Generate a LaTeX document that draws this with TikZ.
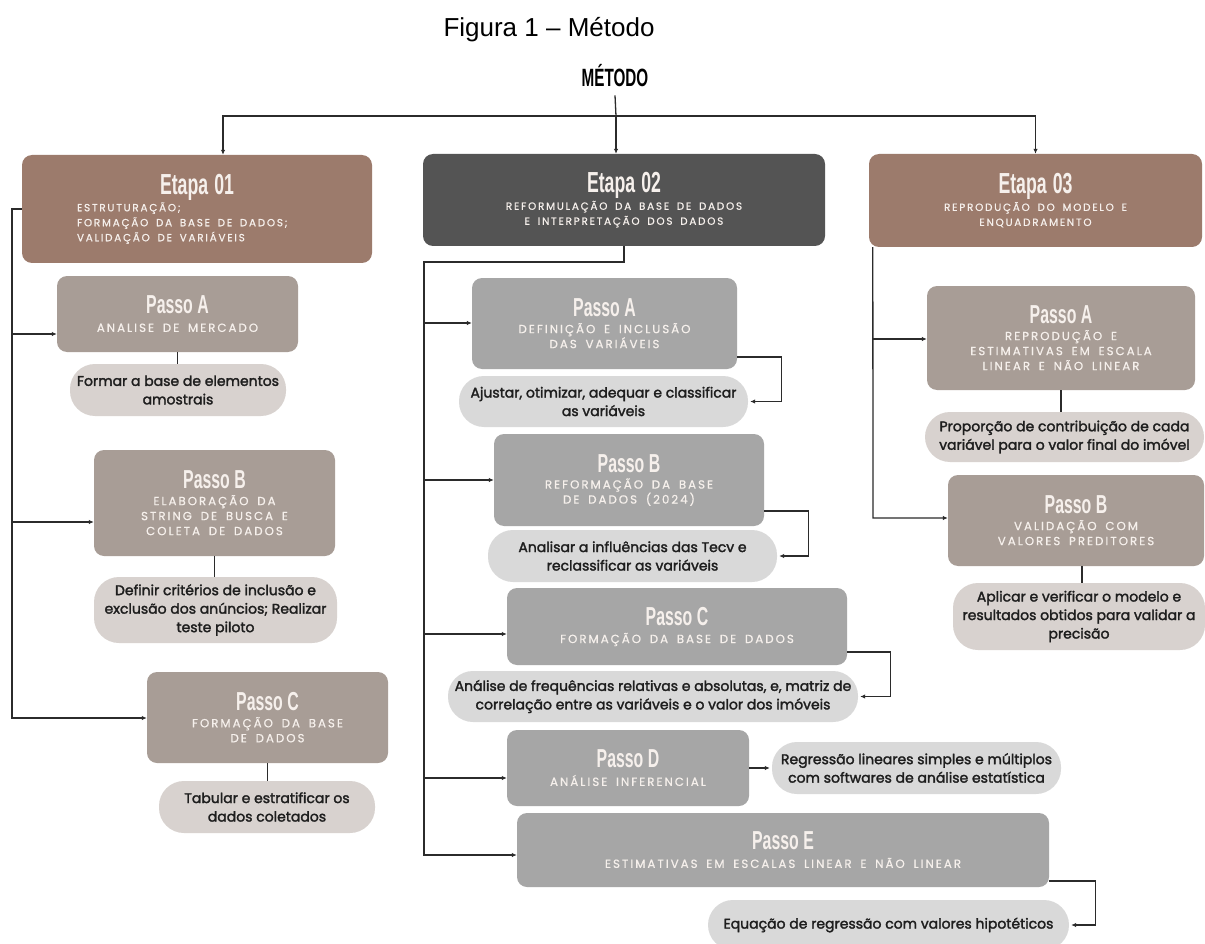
\documentclass[tikz,border=0pt]{standalone}
\usepackage{fontspec}
\usepackage{graphicx}
\usetikzlibrary{arrows.meta,calc}
\setmainfont{Liberation Sans}
\newfontfamily\hdfont{Liberation Sans}
\newfontfamily\subfont{Poppins}[LetterSpace=17, FakeBold=0.6, WordSpace=1.7]
\newfontfamily\pillfont{Poppins}[FakeBold=2]
\definecolor{brownE}{HTML}{9C7B6C}
\definecolor{darkE}{HTML}{545454}
\definecolor{taupe}{HTML}{A89D96}
\definecolor{grayP}{HTML}{A6A6A6}
\definecolor{pillT}{HTML}{D8D2CF}
\definecolor{pillG}{HTML}{D9D9D9}
\definecolor{lineC}{HTML}{2B2B2B}
\definecolor{subW}{HTML}{F6F0EC}
\definecolor{pillText}{HTML}{1E1E1E}
\newcommand{\hd}[2]{{\hdfont\bfseries\fontsize{#1}{#1}\selectfont\scalebox{0.61}[1]{#2}}}
\begin{document}
\begin{tikzpicture}[x=1pt,y=-1pt,
  stagebox/.style={rounded corners=10pt, inner sep=0pt, text=subW, align=center,
    font=\subfont\fontsize{10.4}{15}\selectfont},
  stepbox/.style={rounded corners=10pt, inner sep=0pt, text=subW, align=center,
    font=\subfont\fontsize{11.8}{15}\selectfont},
  pillbox/.style={rounded corners=25pt, inner sep=0pt, text=pillText, align=center,
    font=\pillfont\fontsize{14}{18.5}\selectfont},
  conn/.style={draw=lineC, line width=1.3pt},
  arrowc/.style={conn, -{Latex[length=5pt,width=4.5pt]}}
]
\useasboundingbox (0,0) rectangle (1205,944);
\fill[white] (0,0) rectangle (1205,944);

% titles
\node[anchor=base, inner sep=0pt] (fig) at (549,37) {\fontsize{26}{26}\selectfont Figura 1 – Método};
\node[anchor=base, inner sep=0pt] (metodo) at (615,87) {\hd{25}{MÉTODO}};

% stages
\node[stagebox, fill=brownE, minimum width=350pt, minimum height=108pt, text width=240pt, align=left] (e1) at (197,209)
  {\spaceskip=0pt\xspaceskip=0pt\hspace*{83pt}\hd{29}{Etapa\hspace{2pt} 01}\\[2pt] ESTRUTURAÇÃO;\\ FORMAÇÃO DA BASE DE DADOS;\\ VALIDAÇÃO DE VARIÁVEIS};
\node[stagebox, fill=darkE, minimum width=402pt, minimum height=92pt] (e2) at (624,200)
  {\hd{29}{Etapa\hspace{2pt} 02}\\[2pt] REFORMULAÇÃO DA BASE DE DADOS\\ E INTERPRETAÇÃO DOS DADOS};
\node[stagebox, fill=brownE, minimum width=333pt, minimum height=93pt] (e3) at (1035.5,200.5)
  {\hd{29}{Etapa\hspace{2pt} 03}\\[2pt] REPRODUÇÃO DO MODELO E\\ ENQUADRAMENTO};

% column 1
\node[stepbox, fill=taupe, minimum width=241pt, minimum height=76pt] (p1a) at (177.5,314)
  {\hd{26}{Passo A}\\[3pt] ANALISE DE MERCADO};
\node[pillbox, fill=pillT, minimum width=216pt, minimum height=52pt] (pill1a) at (178,390)
  {Formar a base de elementos\\ amostrais};
\node[stepbox, fill=taupe, minimum width=241pt, minimum height=106pt] (p1b) at (214.5,503)
  {\hd{26}{Passo B}\\[1.5pt] ELABORAÇÃO DA\\ STRING DE BUSCA E\\ COLETA DE DADOS};
\node[pillbox, fill=pillT, minimum width=243pt, minimum height=66pt] (pill1b) at (215.5,610)
  {Definir critérios de inclusão e\\ exclusão dos anúncios; Realizar\\ teste piloto};
\node[stepbox, fill=taupe, minimum width=241pt, minimum height=91pt] (p1c) at (267.5,717.5)
  {\hd{26}{Passo C}\\[1.5pt] FORMAÇÃO DA BASE\\ DE DADOS};
\node[pillbox, fill=pillT, minimum width=216pt, minimum height=52pt] (pill1c) at (267,807)
  {Tabular e estratificar os\\ dados coletados};

% column 2
\node[stepbox, fill=grayP, minimum width=265pt, minimum height=91pt] (p2a) at (604.5,323.5)
  {\hd{26}{Passo A}\\[1.5pt] DEFINIÇÃO E INCLUSÃO\\ DAS VARIÁVEIS};
\node[pillbox, fill=pillG, minimum width=289pt, minimum height=51pt] (pill2a) at (603.5,401.5)
  {Ajustar, otimizar, adequar e classificar\\ as variáveis};
\node[stepbox, fill=grayP, minimum width=270pt, minimum height=92pt] (p2b) at (629,480)
  {\hd{26}{Passo B}\\[1.5pt] REFORMAÇÃO DA BASE\\ DE DADOS (2024)};
\node[pillbox, fill=pillG, minimum width=289pt, minimum height=52pt] (pill2b) at (632.5,556)
  {Analisar a influências das Tecv e\\ reclassificar as variáveis};
\node[stepbox, fill=grayP, minimum width=340pt, minimum height=77pt] (p2c) at (677,626.5)
  {\hd{26}{Passo C}\\[3pt] FORMAÇÃO DA BASE DE DADOS};
\node[pillbox, fill=pillG, minimum width=410pt, minimum height=51pt] (pill2c) at (653,696.5)
  {Análise de frequências relativas e absolutas, e, matriz de\\ correlação entre as variáveis e o valor dos imóveis};
\node[stepbox, fill=grayP, minimum width=242pt, minimum height=76pt] (p2d) at (628,768)
  {\hd{26}{Passo D}\\[3pt] ANÁLISE INFERENCIAL};
\node[pillbox, fill=pillG, minimum width=289pt, minimum height=52pt] (pill2d) at (916.5,768)
  {Regressão lineares simples e múltiplos\\ com softwares de análise estatística};
\node[stepbox, fill=grayP, minimum width=532pt, minimum height=74pt] (p2e) at (783,850)
  {\hd{26}{Passo E}\\[3pt] ESTIMATIVAS EM ESCALAS LINEAR E NÃO LINEAR};
\node[pillbox, fill=pillG, minimum width=361pt, minimum height=50pt] (pill2e) at (888.5,925)
  {Equação de regressão com valores hipotéticos};

% column 3
\node[stepbox, fill=taupe, minimum width=268pt, minimum height=104pt] (p3a) at (1061,338)
  {\hd{26}{Passo A}\\[1.5pt] REPRODUÇÃO E\\ ESTIMATIVAS EM ESCALA\\ LINEAR E NÃO LINEAR};
\node[pillbox, fill=pillT, minimum width=279pt, minimum height=50pt] (pill3a) at (1064.5,437)
  {Proporção de contribuição de cada\\ variável para o valor final do imóvel};
\node[stepbox, fill=taupe, minimum width=256pt, minimum height=91pt] (p3b) at (1076,520.5)
  {\hd{26}{Passo B}\\[1.5pt] VALIDAÇÃO COM\\ VALORES PREDITORES};
\node[pillbox, fill=pillT, minimum width=252pt, minimum height=67pt] (pill3b) at (1079,616.5)
  {Aplicar e verificar o modelo e\\ resultados obtidos para validar a\\ precisão};

% top connectors
\coordinate (hub) at (616,116);
\draw[conn] ([yshift=-8pt]metodo.south) -- (hub);
\draw[arrowc] (hub) -- (hub |- e2.north);
\draw[arrowc] (hub) -| ([xshift=26pt]e1.north);
\draw[arrowc] (hub) -| (e3.north);

% column 1 connectors
\coordinate (s1a) at (12,334);
\coordinate (s1b) at (12,522);
\coordinate (s1c) at (12,718);
\draw[arrowc] (e1.west) -| (s1c) -- (s1c -| p1c.west);
\draw[arrowc] (s1a) -- (s1a -| p1a.west);
\draw[arrowc] (s1b) -- (s1b -| p1b.west);
\draw[conn] (p1a.south) -- (p1a.south |- pill1a.north);
\draw[conn] (p1b.south) -- (p1b.south |- pill1b.north);
\draw[conn] (p1c.south) -- (p1c.south |- pill1c.north);

% column 2 connectors
\coordinate (c2) at (424,262);
\coordinate (s2a) at (424,323);
\coordinate (s2b) at (424,480);
\coordinate (s2c) at (424,634);
\coordinate (s2d) at (424,778);
\coordinate (s2e) at (424,855);
\draw[arrowc] (e2.south) |- (c2) -- (s2e) -- (s2e -| p2e.west);
\draw[arrowc] (s2a) -- (s2a -| p2a.west);
\draw[arrowc] (s2b) -- (s2b -| p2b.west);
\draw[arrowc] (s2c) -- (s2c -| p2c.west);
\draw[arrowc] (s2d) -- (s2d -| p2d.west);
\draw[arrowc, shorten >=2pt] ([yshift=-33.5pt]p2a.east) -- ++(44,0) |- (pill2a.east);
\draw[arrowc, shorten >=2pt] ([yshift=-31pt]p2b.east) -- ++(44,0) |- (pill2b.east);
\draw[arrowc, shorten >=2pt] ([yshift=-25.5pt]p2c.east) -- ++(43,0) |- (pill2c.east);
\draw[arrowc, shorten >=2pt] (p2d.east) -- (pill2d.west);
\draw[arrowc, shorten >=2pt] ([yshift=-31pt]p2e.east) -- ++(46,0) |- (pill2e.east);

% column 3 connectors
\coordinate (s3a) at (873,339);
\coordinate (s3b) at (873,518);
\draw[arrowc] ([xshift=4pt]e3.south west) -- (s3b) -- (s3b -| p3b.west);
\draw[arrowc] (s3a) -- (s3a -| p3a.west);
\draw[conn] (p3a.south) -- (p3a.south |- pill3a.north);
\draw[conn] ([xshift=6pt]p3b.south) -- ([xshift=6pt]p3b.south |- pill3b.north);
\end{tikzpicture}
\end{document}
